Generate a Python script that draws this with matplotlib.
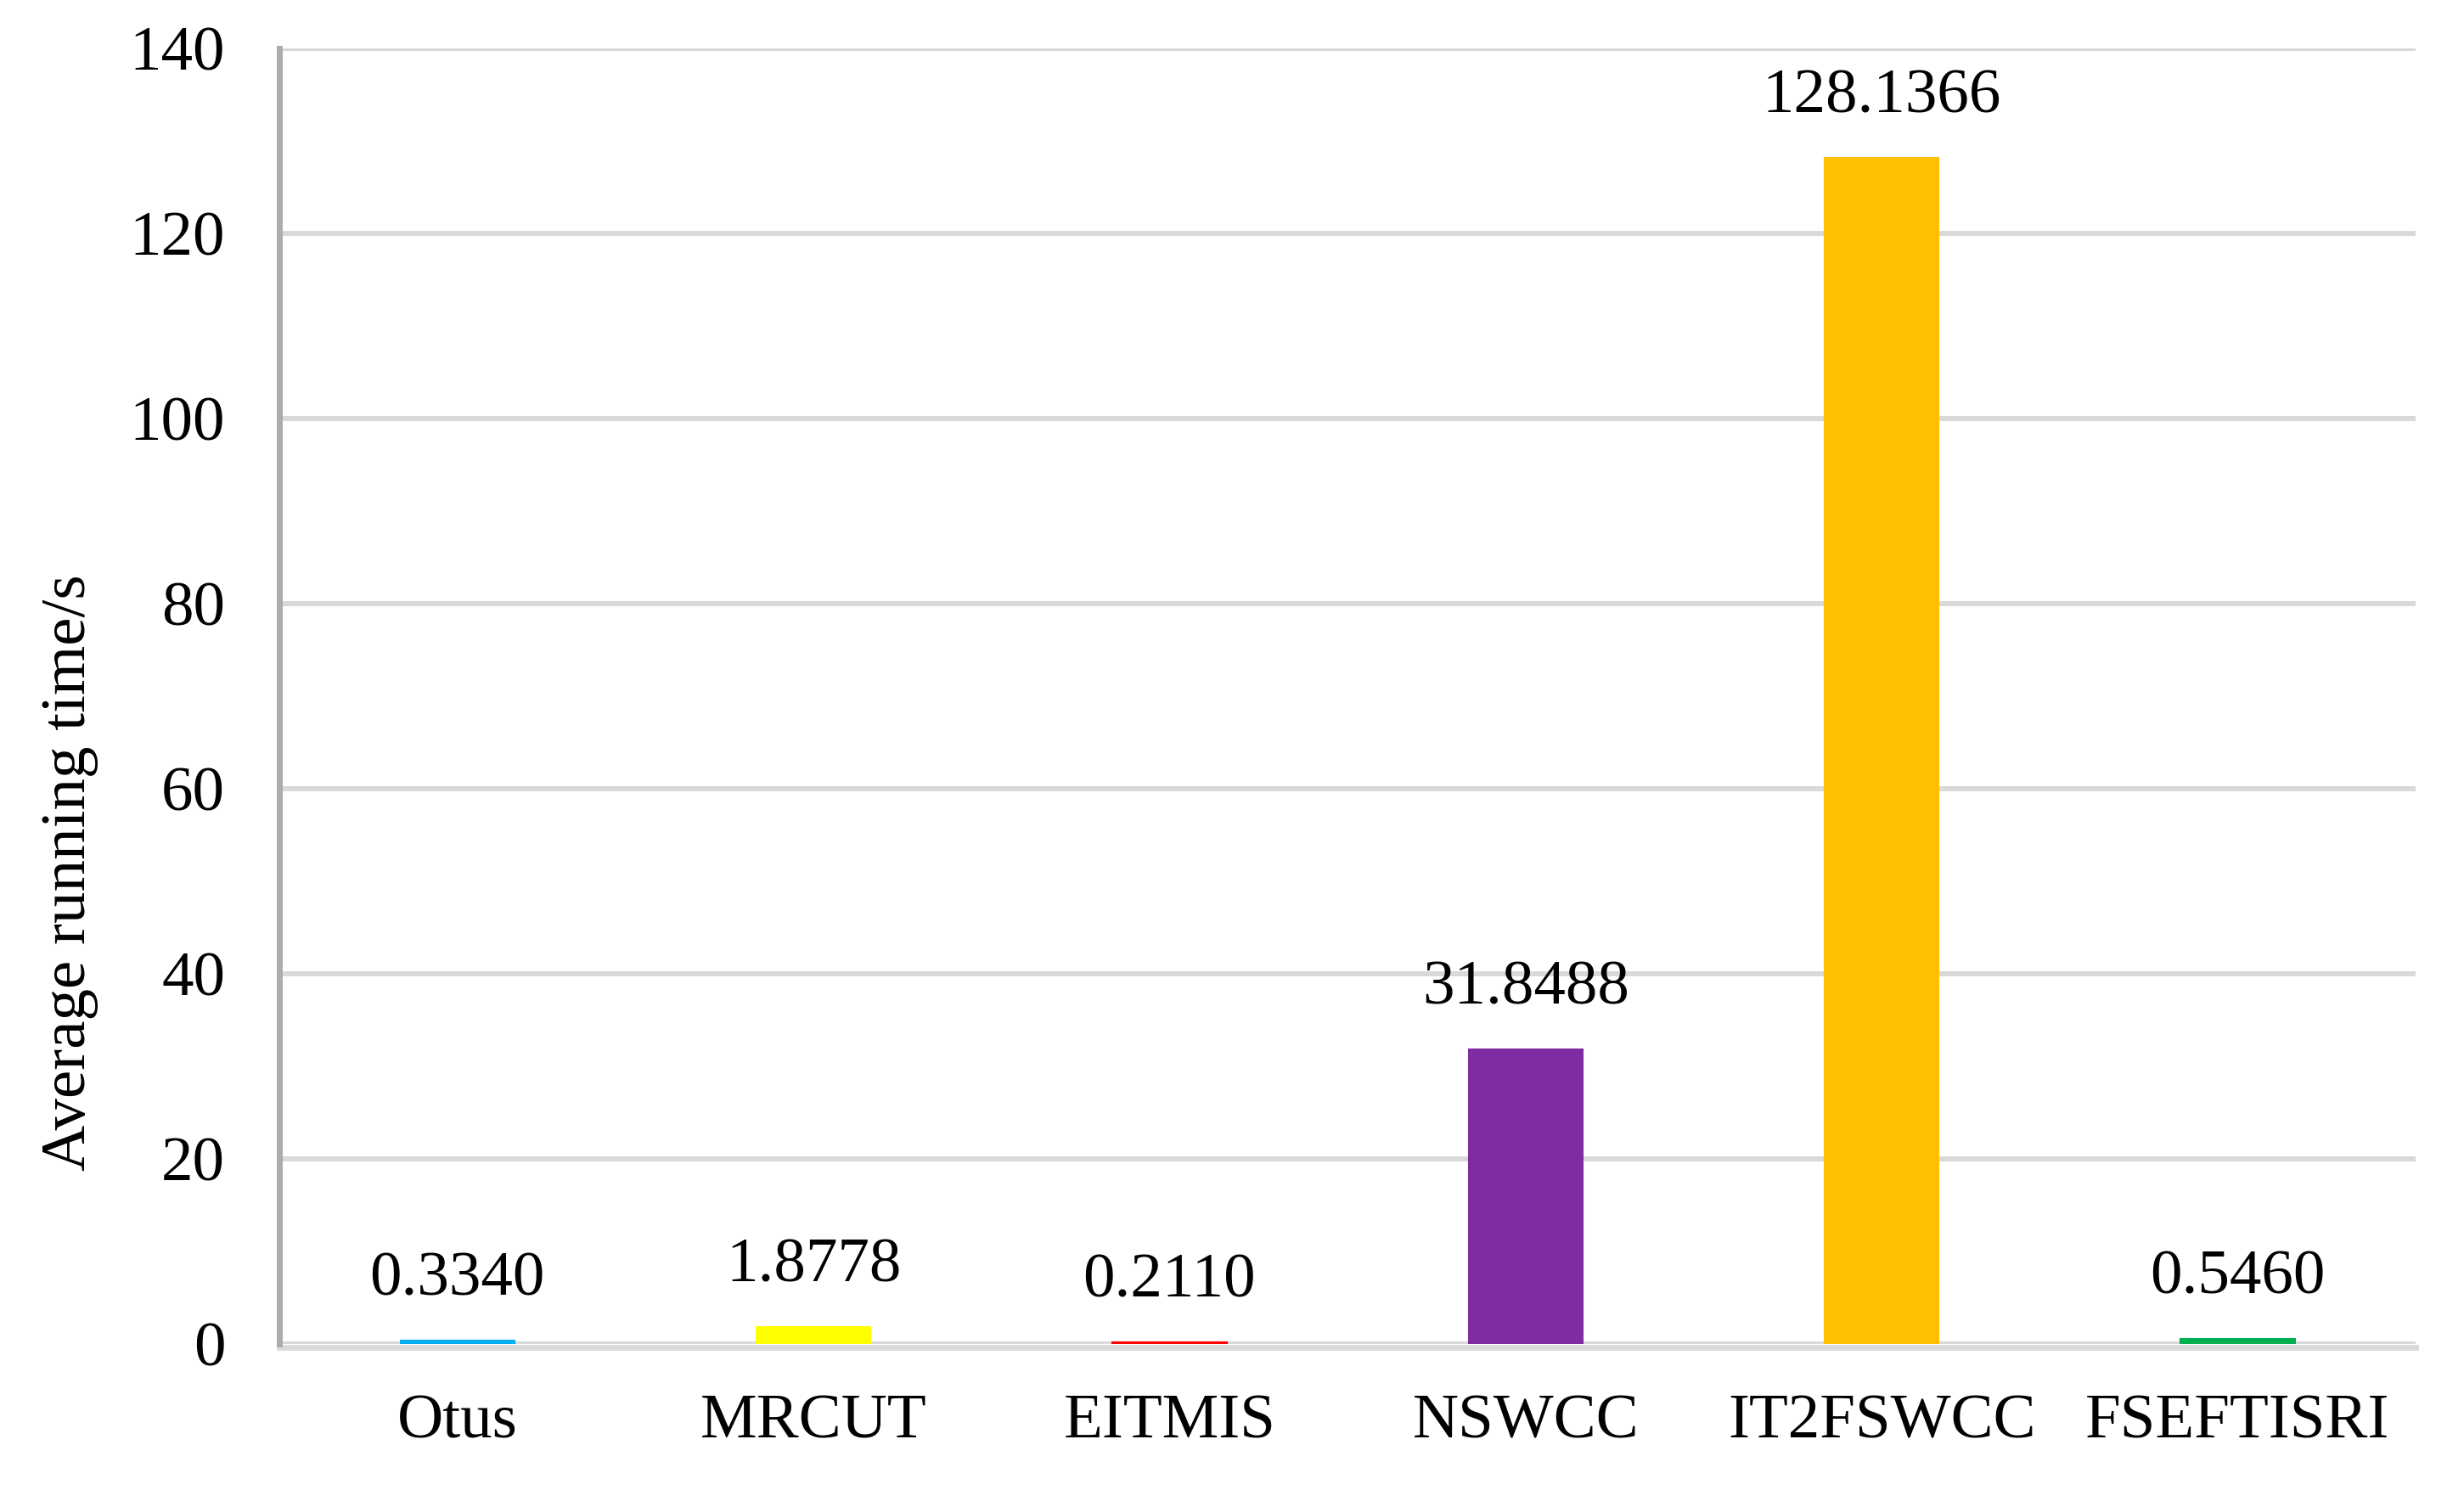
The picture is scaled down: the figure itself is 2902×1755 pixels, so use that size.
import matplotlib
matplotlib.use("Agg")
import matplotlib.pyplot as plt

categories = ["Otus", "MRCUT", "EITMIS", "NSWCC", "IT2FSWCC", "FSEFTISRI"]
values = [0.3340, 1.8778, 0.2110, 31.8488, 128.1366, 0.5460]
labels = ["0.3340", "1.8778", "0.2110", "31.8488", "128.1366", "0.5460"]
colors = ["#00B0F0", "#FFFF00", "#FF0000", "#7F2CA2", "#FFC000", "#00B050"]
yticks = [0, 20, 40, 60, 80, 100, 120, 140]

plt.rcParams['font.family'] = ['Liberation Serif', 'DejaVu Serif']

fig = plt.figure(figsize=(29.02, 17.55), dpi=100)
ax = fig.add_axes([0.1134, 0.098, 0.9804 - 0.1134, 0.9675 - 0.098])

x = list(range(len(categories)))
bars = ax.bar(x, values, width=0.32, color=colors, zorder=3,
              edgecolor=colors, linewidth=1.5)
for xi, v, lab in zip(x, values, labels):
    ax.annotate(lab, (xi, v), xytext=(0, 27), textcoords='offset points',
                ha='center', va='bottom', fontsize=54)

ax.set_xlim(-0.5, len(categories) - 0.5)
ax.set_ylim(0, 140)
ax.set_yticks(yticks)
ax.set_xticks(x)
ax.set_xticklabels(categories)
ax.tick_params(axis='both', length=0, labelsize=54)
ax.tick_params(axis='y', pad=46)
ax.tick_params(axis='x', pad=40)
ax.yaxis.grid(True, color='#D9D9D9', linewidth=4.3, zorder=0)
ax.set_axisbelow(True)

for s in ['top', 'right']:
    ax.spines[s].set_visible(False)
ax.spines['left'].set_color('#AFABAB')
ax.spines['left'].set_linewidth(5)
ax.spines['bottom'].set_color('#D9D9D9')
ax.spines['bottom'].set_linewidth(5)
ax.spines['bottom'].set_position(('outward', 2.6))
ax.spines['bottom'].set_zorder(2)

ax.set_ylabel("Average running time/s", fontsize=54)
ax.yaxis.set_label_coords(-0.0845, 0.364)

fig.savefig("out.png", dpi=100)
